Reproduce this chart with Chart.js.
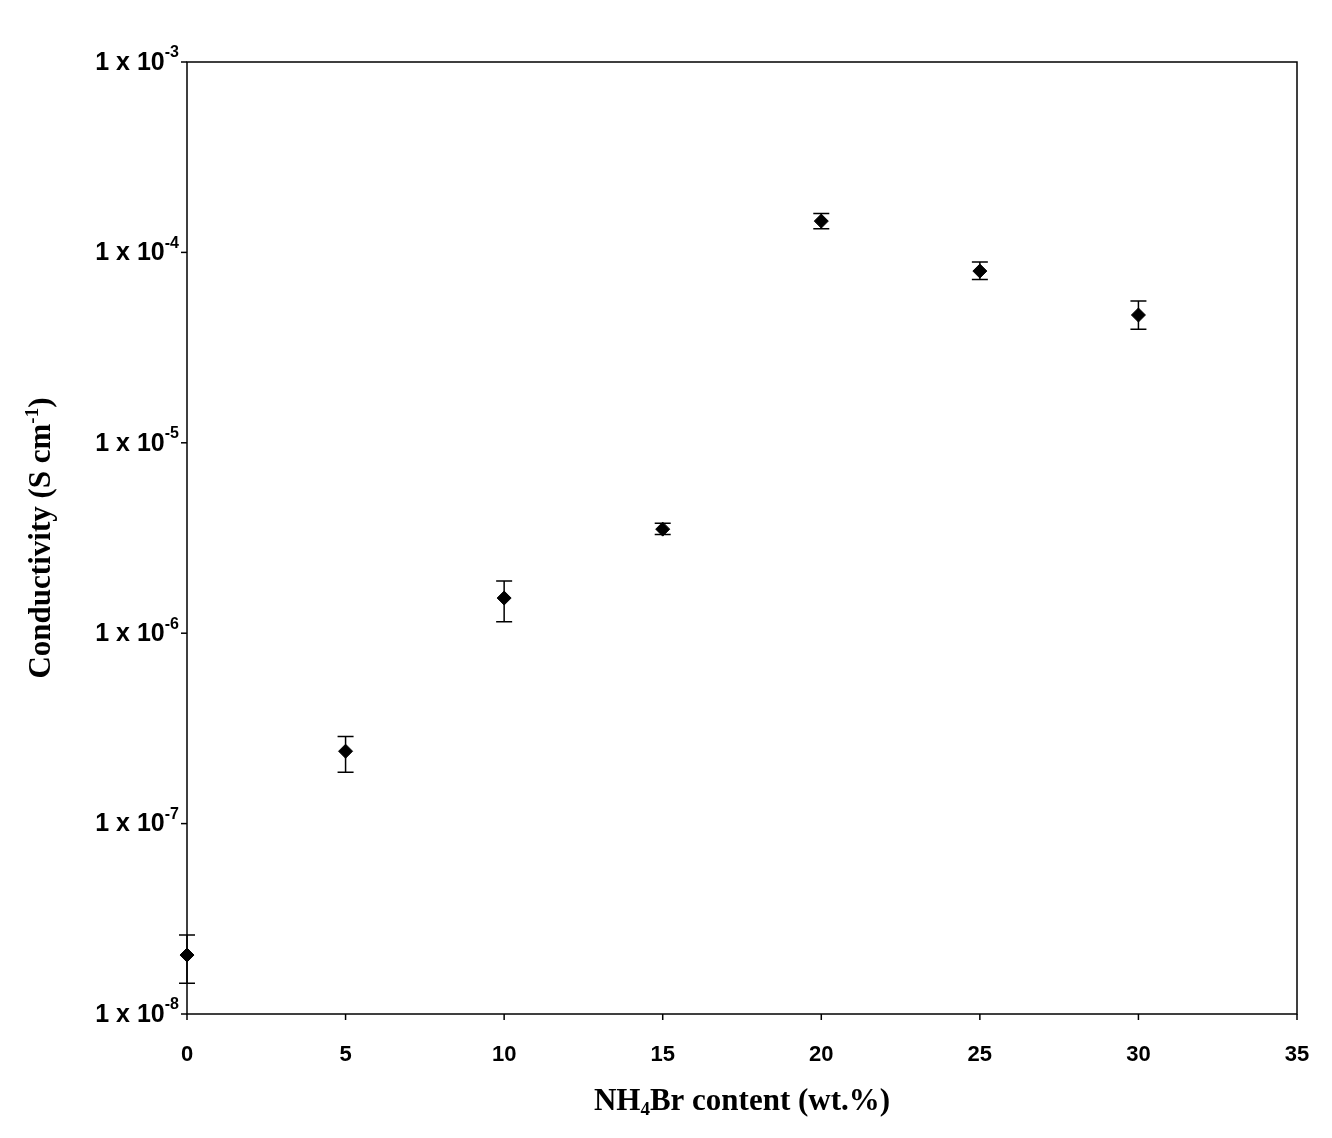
<!DOCTYPE html>
<html><head><meta charset="utf-8">
<script src="https://cdn.jsdelivr.net/npm/chart.js@4"></script>
<style>html,body{margin:0;padding:0;background:#fff}#w{width:1332px;height:1138px}</style>
</head><body><div id="w"><canvas id="c"></canvas></div>
<script>
const xValues=[0,5,10,15,20,25,30];
const conductivity=[2.04e-8,2.4e-7,1.53e-6,3.52e-6,1.46e-4,7.98e-5,4.69e-5];
const errHigh=[2.6e-8,2.87e-7,1.88e-6,3.78e-6,1.6e-4,8.9e-5,5.55e-5];
const errLow=[1.45e-8,1.86e-7,1.15e-6,3.3e-6,1.33e-4,7.2e-5,3.95e-5];
const xTicks=[0,5,10,15,20,25,30,35];
const yExponents=[-3,-4,-5,-6,-7,-8];

const deco={id:'deco',afterDatasetsDraw(ch){
  const c=ch.ctx,xs=ch.scales.x,ys=ch.scales.y,a=ch.chartArea;
  c.save();c.strokeStyle='#000';c.fillStyle='#000';c.lineWidth=1.5;
  c.strokeRect(a.left,a.top,a.right-a.left,a.bottom-a.top);
  xValues.forEach((v,i)=>{const px=xs.getPixelForValue(v),h=ys.getPixelForValue(errHigh[i]),l=ys.getPixelForValue(errLow[i]);
    c.beginPath();c.moveTo(px,h);c.lineTo(px,l);c.moveTo(px-8,h);c.lineTo(px+8,h);c.moveTo(px-8,l);c.lineTo(px+8,l);c.stroke();});
  c.font='bold 22px "Liberation Sans", Arial';c.textAlign='center';c.textBaseline='middle';
  xTicks.forEach(t=>{const px=xs.getPixelForValue(t);c.beginPath();c.moveTo(px,a.bottom);c.lineTo(px,a.bottom+6);c.stroke();c.fillText(String(t),px,a.bottom+41);});
  yExponents.forEach(e=>{const py=ys.getPixelForValue(Math.pow(10,e));c.beginPath();c.moveTo(a.left,py);c.lineTo(a.left-6,py);c.stroke();
    c.textAlign='right';c.textBaseline='middle';c.font='bold 16px "Liberation Sans", Arial';const sup=String(e);
    const sw=c.measureText(sup).width;c.fillText(sup,a.left-8,py-9);
    c.font='bold 25px "Liberation Sans", Arial';c.fillText('1 x 10',a.left-8-sw,py+1);});
  c.textBaseline='alphabetic';c.textAlign='left';
  const p1='NH',p3='Br content (wt.%)';c.font='bold 31px "Liberation Serif"';const w1=c.measureText(p1).width,w3=c.measureText(p3).width;
  c.font='bold 19px "Liberation Serif"';const w2=c.measureText('4').width;
  let sx=(a.left+a.right)/2-(w1+w2+w3)/2,by=1110;
  c.font='bold 31px "Liberation Serif"';c.fillText(p1,sx,by);c.font='bold 19px "Liberation Serif"';c.fillText('4',sx+w1,by+5);
  c.font='bold 31px "Liberation Serif"';c.fillText(p3,sx+w1+w2,by);
  c.translate(50,(a.top+a.bottom)/2);c.rotate(-Math.PI/2);
  const q1='Conductivity (S cm',q3=')';const v1=c.measureText(q1).width,v3=c.measureText(q3).width;
  c.font='bold 19px "Liberation Serif"';const v2=c.measureText('-1').width;
  let tx=-(v1+v2+v3)/2;c.font='bold 31px "Liberation Serif"';c.fillText(q1,tx,0);
  c.font='bold 19px "Liberation Serif"';c.fillText('-1',tx+v1,-12);c.font='bold 31px "Liberation Serif"';c.fillText(q3,tx+v1+v2,0);
  c.restore();}};

new Chart(document.getElementById('c'),{type:'scatter',
 data:{datasets:[{data:xValues.map((x,i)=>({x,y:conductivity[i]})),pointStyle:'rectRot',pointRadius:7,backgroundColor:'#000',borderColor:'#000',clip:false}]},
 options:{responsive:true,maintainAspectRatio:false,animation:false,
  layout:{padding:{left:179,right:35,top:62,bottom:116}},
  plugins:{legend:{display:false},tooltip:{enabled:false}},
  scales:{x:{type:'linear',min:0,max:35,ticks:{display:false},grid:{display:false},border:{display:false}},
   y:{type:'logarithmic',min:1e-8,max:1e-3,ticks:{display:false},grid:{display:false},border:{display:false}}}},
 plugins:[deco]});
</script></body></html>
